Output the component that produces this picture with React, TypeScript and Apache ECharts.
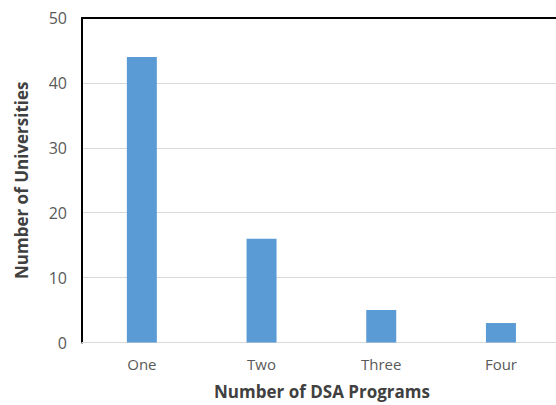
import React, { useEffect, useRef } from "react";
import * as echarts from "echarts";

const categories = ["One", "Two", "Three", "Four"];
const universities = [44, 16, 5, 3];
const yTicks = { min: 0, max: 50, interval: 10 };
// category positions on the x value scale (band index), visible range ends before the last band's edge
const xRange = { min: -0.5, max: 3.46 };

export default function App() {
  const ref = useRef<HTMLDivElement>(null);
  useEffect(() => {
    const chart = echarts.init(ref.current!, null, { renderer: "svg" });
    const idx = categories.map((_, i) => i);
    chart.setOption({
      animation: false,
      backgroundColor: "#ffffff",
      textStyle: { fontFamily: "Open Sans" },
      grid: { left: 82, right: 0, top: 18, bottom: 62, containLabel: false },
      xAxis: [
        {
          type: "value",
          min: xRange.min,
          max: xRange.max,
          position: "bottom",
          splitLine: { show: false },
          axisLine: { show: true, onZero: false, lineStyle: { color: "#d9d9d9", width: 1 } },
          axisTick: { show: false, customValues: idx },
          axisLabel: {
            customValues: idx,
            color: "#595959",
            fontSize: 15,
            margin: 14,
            formatter: (v: number) => categories[Math.round(v)] ?? "",
          },
          name: "Number of DSA Programs",
          nameLocation: "middle",
          nameGap: 49,
          nameTextStyle: {
            color: "#404040",
            fontSize: 17,
            fontWeight: "bold",
            verticalAlign: "middle",
            lineHeight: 17,
            padding: [0, 0, 0, 6],
          },
        },
        {
          type: "value",
          min: xRange.min,
          max: xRange.max,
          position: "top",
          splitLine: { show: false },
          axisLine: { show: true, onZero: false, lineStyle: { color: "#000000", width: 2 } },
          axisTick: { show: false },
          axisLabel: { show: false },
        },
      ],
      yAxis: {
        type: "value",
        min: yTicks.min,
        max: yTicks.max,
        interval: yTicks.interval,
        axisLine: { show: true, onZero: false, lineStyle: { color: "#000000", width: 2 } },
        axisTick: { show: false },
        axisLabel: { color: "#595959", fontSize: 16, margin: 15 },
        splitLine: { lineStyle: { color: "#d9d9d9", width: 1 } },
        name: "Number of Universities",
        nameLocation: "middle",
        nameGap: 52,
        nameTextStyle: { color: "#404040", fontSize: 17, fontWeight: "bold", lineHeight: 17 },
      },
      series: [
        {
          type: "bar",
          xAxisIndex: 0,
          data: idx.map((i) => [i, universities[i]]),
          barWidth: 30,
          itemStyle: { color: "#5b9bd5" },
        },
      ],
    });
    return () => chart.dispose();
  }, []);
  return (
    <div
      ref={ref}
      style={{ position: "absolute", left: 0, top: 0, width: 556, height: 405 }}
    />
  );
}
